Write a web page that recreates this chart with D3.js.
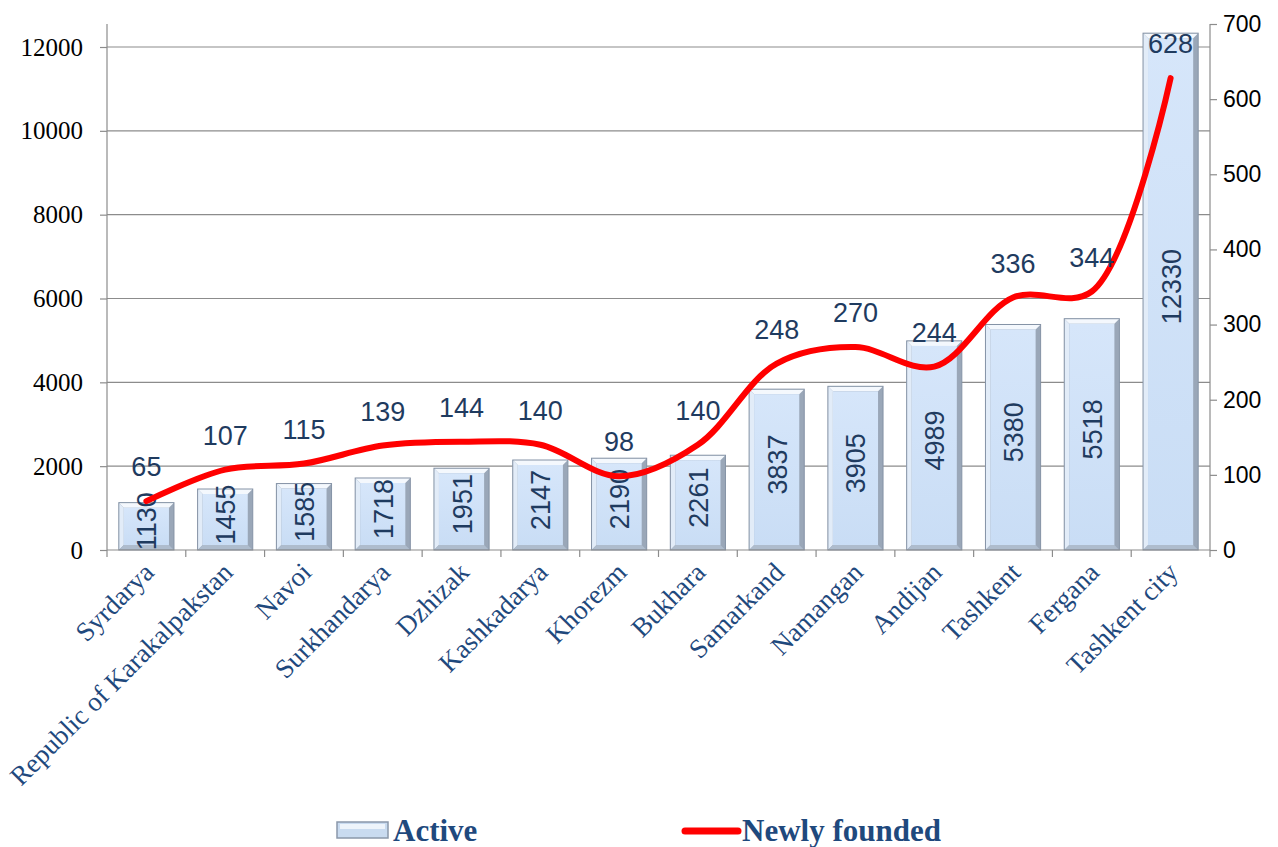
<!DOCTYPE html>
<html>
<head>
<meta charset="utf-8">
<script src="https://cdn.jsdelivr.net/npm/d3@7"></script>
<style>
  body { margin: 0; background: #fff; }
  svg { display: block; }
</style>
</head>
<body>
<div id="chart"></div>
<script>
var regions = ["Syrdarya", "Republic of Karakalpakstan", "Navoi", "Surkhandarya", "Dzhizak",
  "Kashkadarya", "Khorezm", "Bukhara", "Samarkand", "Namangan", "Andijan", "Tashkent",
  "Fergana", "Tashkent city"];
var active = [1130, 1455, 1585, 1718, 1951, 2147, 2190, 2261, 3837, 3905, 4989, 5380, 5518, 12330];
var newlyFounded = [65, 107, 115, 139, 144, 140, 98, 140, 248, 270, 244, 336, 344, 628];
var leftTicks = [0, 2000, 4000, 6000, 8000, 10000, 12000];
var rightTicks = [0, 100, 200, 300, 400, 500, 600, 700];

var width = 1278, height = 847;
var x0 = 107, x1 = 1210, yBase = 550, yTop = 24;
var labelColor = "#1f3b5f", catColor = "#1f497d", axisColor = "#8c8c8c";

var svg = d3.select("#chart").append("svg")
    .attr("width", width)
    .attr("height", height);

var defs = svg.append("defs");
var grad = defs.append("linearGradient").attr("id", "barFace")
    .attr("x1", 0).attr("x2", 0).attr("y1", 0).attr("y2", 1);
grad.append("stop").attr("offset", "0%").attr("stop-color", "#d6e6fa");
grad.append("stop").attr("offset", "100%").attr("stop-color", "#c9ddf5");

var x = d3.scaleBand().domain(regions).range([x0, x1]).paddingInner(0.3).paddingOuter(0.15);
var band = d3.scaleBand().domain(regions).range([x0, x1]);
// left scale: 12000 sits at y=47
var yL = d3.scaleLinear().domain([0, 12000]).range([yBase, 47]);
var yR = d3.scaleLinear().domain([0, 700]).range([yBase, yTop]);

// gridlines
svg.append("g").selectAll("line")
  .data(leftTicks.slice(1))
  .join("line")
    .attr("x1", x0).attr("x2", x1)
    .attr("y1", d => yL(d)).attr("y2", d => yL(d))
    .attr("stroke", axisColor).attr("stroke-width", 1.2);

// bars with a simple bevel look
var bars = svg.append("g").selectAll("g")
  .data(regions)
  .join("g")
    .attr("transform", (d, i) => "translate(" + x(d) + "," + yL(active[i]) + ")");
var bw = x.bandwidth();
var bev = 5;
bars.append("rect")
    .attr("width", bw)
    .attr("height", (d, i) => yBase - yL(active[i]))
    .attr("fill", "#9aa7b8");
bars.append("path")
    .attr("d", "M0,0 L" + bw + ",0 L" + (bw - bev) + "," + bev + " L" + bev + "," + bev + " Z")
    .attr("fill", "#f4f8fd");
bars.append("path")
    .attr("d", (d, i) => {
      var h = yBase - yL(active[i]);
      return "M0,0 L" + bev + "," + bev + " L" + bev + "," + (h - bev) + " L0," + h + " Z";
    })
    .attr("fill", "#e2ecf8");
bars.append("path")
    .attr("d", (d, i) => {
      var h = yBase - yL(active[i]);
      return "M0," + h + " L" + bev + "," + (h - bev) + " L" + (bw - bev) + "," + (h - bev) + " L" + bw + "," + h + " Z";
    })
    .attr("fill", "#aebccd");
bars.append("rect")
    .attr("x", bev).attr("y", bev)
    .attr("width", bw - 2 * bev)
    .attr("height", (d, i) => Math.max(0, yBase - yL(active[i]) - 2 * bev))
    .attr("fill", "url(#barFace)");
bars.append("rect")
    .attr("width", bw)
    .attr("height", (d, i) => yBase - yL(active[i]))
    .attr("fill", "none")
    .attr("stroke", "#8593a6").attr("stroke-width", 1);

// axes
var leftAxis = svg.append("g")
    .attr("transform", "translate(" + x0 + ",0)")
    .call(d3.axisLeft(yL).tickValues(leftTicks).tickSize(7).tickPadding(17).tickFormat(d3.format("d")));
leftAxis.select(".domain").attr("d", "M0," + yTop + "V" + yBase);
var rightAxis = svg.append("g")
    .attr("transform", "translate(" + x1 + ",0)")
    .call(d3.axisRight(yR).tickValues(rightTicks).tickSize(7).tickPadding(6));
rightAxis.select(".domain").attr("d", "M0," + yTop + "V" + yBase);
var bottomAxis = svg.append("g")
    .attr("transform", "translate(0," + yBase + ")");
bottomAxis.append("line").attr("x1", x0).attr("x2", x1).attr("stroke", axisColor).attr("stroke-width", 1.2);
bottomAxis.selectAll(".tk")
  .data(regions.concat(["end"]))
  .join("line")
    .attr("x1", (d, i) => x0 + i * band.bandwidth())
    .attr("x2", (d, i) => x0 + i * band.bandwidth())
    .attr("y1", 0).attr("y2", 7)
    .attr("stroke", axisColor).attr("stroke-width", 1.2);

[leftAxis, rightAxis].forEach(function(a) {
  a.selectAll(".domain, line").attr("stroke", axisColor).attr("stroke-width", 1.2);
  a.selectAll("text").attr("fill", "#000");
});
leftAxis.attr("font-family", "'Liberation Serif', 'Times New Roman', serif").attr("font-size", 25);
rightAxis.attr("font-family", "'Liberation Sans', Arial, sans-serif").attr("font-size", 23);

// category labels
svg.append("g").selectAll("text")
  .data(regions)
  .join("text")
    .attr("transform", d => "translate(" + (band(d) + band.bandwidth() / 2 + 9) + ",574) rotate(-45)")
    .attr("text-anchor", "end")
    .attr("font-family", "'Liberation Serif', 'Times New Roman', serif")
    .attr("font-size", 27)
    .attr("fill", catColor)
    .text(d => d);

// bar value labels (rotated, centred in the bar)
svg.append("g").selectAll("text")
  .data(regions)
  .join("text")
    .attr("transform", (d, i) => "translate(" + (x(d) + bw / 2 + 10) + "," + ((yL(active[i]) + yBase) / 2 - 5) + ") rotate(-90)")
    .attr("text-anchor", "middle")
    .attr("font-family", "'Liberation Sans', Arial, sans-serif")
    .attr("font-size", 27)
    .attr("fill", labelColor)
    .text((d, i) => active[i]);

// line
var line = d3.line()
    .x((d, i) => band(regions[i]) + band.bandwidth() / 2)
    .y(d => yR(d))
    .curve(d3.curveCatmullRom.alpha(0.5));
svg.append("path")
    .datum(newlyFounded)
    .attr("d", line)
    .attr("fill", "none")
    .attr("stroke", "#ff0000")
    .attr("stroke-width", 6)
    .attr("stroke-linecap", "round")
    .attr("stroke-linejoin", "round");

// line value labels
svg.append("g").selectAll("text")
  .data(newlyFounded)
  .join("text")
    .attr("x", (d, i) => band(regions[i]) + band.bandwidth() / 2)
    .attr("y", d => yR(d) - 25)
    .attr("text-anchor", "middle")
    .attr("font-family", "'Liberation Sans', Arial, sans-serif")
    .attr("font-size", 27)
    .attr("fill", labelColor)
    .text(d => d);

// legend
var legend = svg.append("g");
legend.append("rect").attr("x", 337).attr("y", 822).attr("width", 51).attr("height", 16)
    .attr("fill", "#c9dbf0").attr("stroke", "#8a98aa").attr("stroke-width", 1.5);
legend.append("rect").attr("x", 340).attr("y", 824).attr("width", 45).attr("height", 5)
    .attr("fill", "#eef4fb");
legend.append("text").attr("x", 393).attr("y", 841)
    .attr("font-family", "'Liberation Serif', 'Times New Roman', serif")
    .attr("font-weight", "bold").attr("font-size", 31).attr("fill", catColor)
    .text("Active");
legend.append("line").attr("x1", 685).attr("x2", 738).attr("y1", 831).attr("y2", 831)
    .attr("stroke", "#ff0000").attr("stroke-width", 7).attr("stroke-linecap", "round");
legend.append("text").attr("x", 742).attr("y", 841)
    .attr("font-family", "'Liberation Serif', 'Times New Roman', serif")
    .attr("font-weight", "bold").attr("font-size", 31).attr("fill", catColor)
    .text("Newly founded");
</script>
</body>
</html>
